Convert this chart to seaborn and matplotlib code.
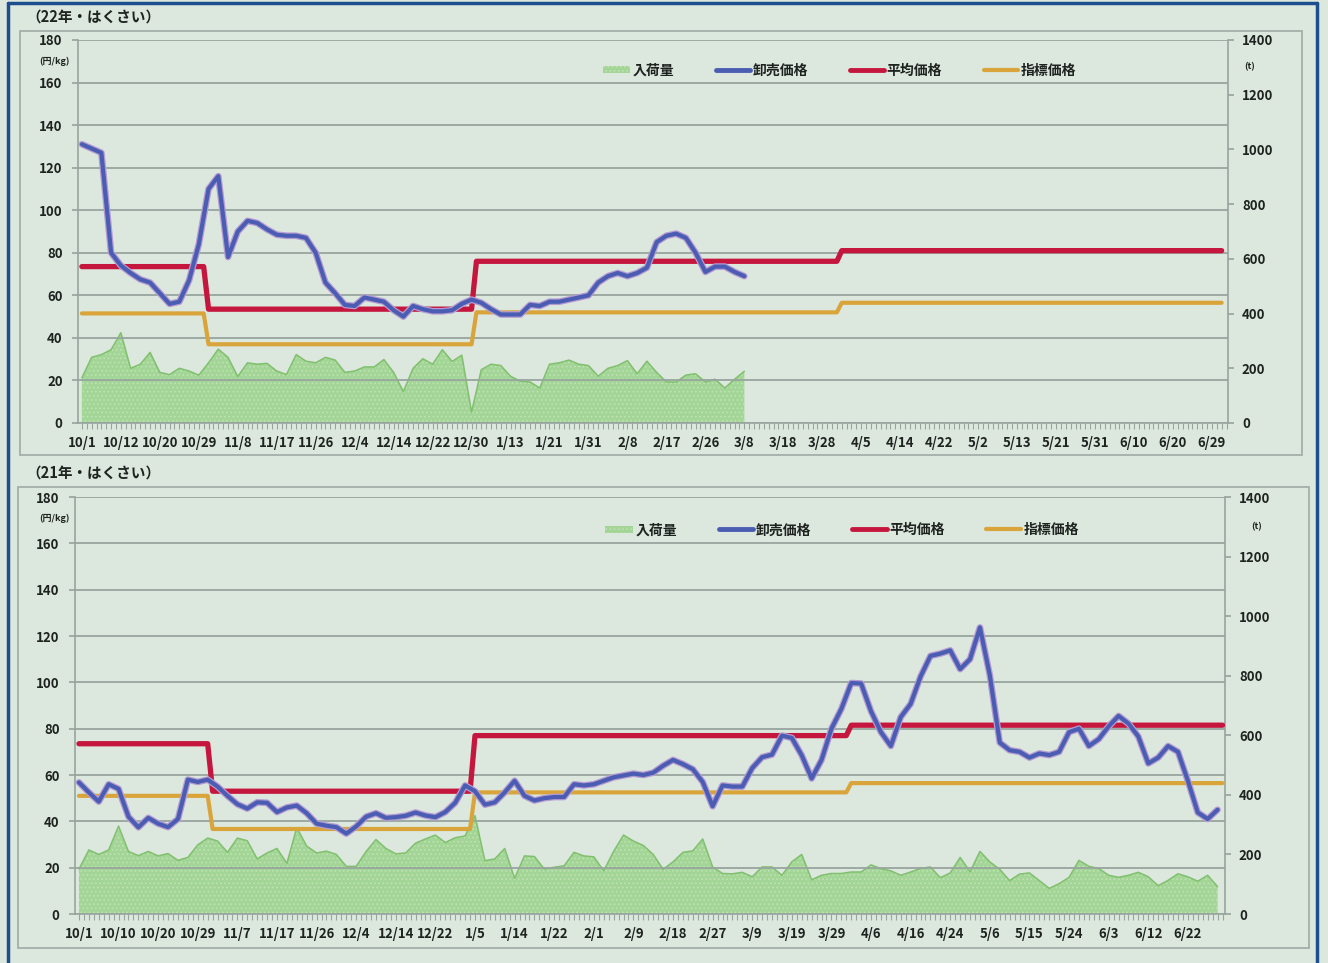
import numpy as np
import matplotlib
matplotlib.use('Agg')
import matplotlib.pyplot as plt
import seaborn as sns
from matplotlib.patches import Patch, Rectangle
from matplotlib.lines import Line2D
from matplotlib.legend_handler import HandlerPatch
from matplotlib.ticker import MultipleLocator

# 上段 22年・はくさい (値は2営業日ごと)
price22 = [131, 129, 127, 80, 74, 70.5, 67.5, 66, 61, 56, 57, 67, 84, 110, 116, 78, 90, 95, 94, 91,
           88.5, 88, 88, 87, 80, 66, 61, 55.5, 55, 59, 58, 57, 53, 50, 55, 53.5, 52.5, 52.5, 53, 56,
           58, 56.5, 53.5, 51, 51, 51, 55.5, 55, 57, 57, 58, 59, 60, 66, 69, 70.5, 69, 70.5, 73, 85,
           88, 89, 87, 80, 71, 73.5, 73.5, 71, 69]
volume22 = [165, 240, 250, 268, 330, 200, 215, 258, 185, 177, 200, 190, 175, 220, 270, 240, 170, 220, 215, 218,
            190, 177, 250, 226, 220, 240, 230, 185, 190, 205, 205, 232, 185, 115, 200, 235, 215, 268, 225, 248,
            40, 195, 215, 210, 171, 153, 150, 128, 215, 220, 230, 215, 210, 171, 200, 210, 228, 180, 226, 185,
            150, 150, 175, 180, 150, 160, 128, 160, 189]
avg22_levels = [73.5, 53.5, 76, 81]
idx22_levels = [51.5, 37, 52, 56.5]
days22 = [26, 55, 75, 79]
labels22 = ['10/1', '10/12', '10/20', '10/29', '11/8', '11/17', '11/26', '12/4', '12/14', '12/22',
            '12/30', '1/13', '1/21', '1/31', '2/8', '2/17', '2/26', '3/8', '3/18', '3/28',
            '4/5', '4/14', '4/22', '5/2', '5/13', '5/21', '5/31', '6/10', '6/20', '6/29']

# 下段 21年・はくさい
price21 = [56.8, 52.5, 48.5, 56, 54, 42, 37.4, 41.5, 39, 37.5, 41, 58, 57, 58, 55, 51, 47.4, 45.5, 48.2, 48,
           44, 46, 46.8, 43.5, 39, 38.1, 37.5, 34.7, 37.8, 42, 43.5, 41.5, 41.8, 42.4, 43.8, 42.5, 41.8, 44, 48, 55.5,
           53, 47.2, 48.2, 52.5, 57.5, 51, 49, 50, 50.5, 50.5, 56, 55.5, 56, 57.5, 59, 59.8, 60.6, 60, 61, 64,
           66.5, 64.7, 62.5, 57, 46.5, 55.5, 55, 55, 63, 67.7, 68.8, 77, 76, 68.5, 58.5, 66.5, 80, 88.5, 99.7, 99.5,
           87.5, 78.5, 72.5, 85, 90.7, 102.5, 111.4, 112.4, 113.8, 105.7, 110, 123.7, 103, 74, 70.7, 70, 67.5, 69.3, 68.6, 70,
           78.5, 80, 72.5, 75.5, 81, 85.5, 82.2, 76.6, 65, 67.5, 72.5, 70, 57.5, 43.8, 41, 45]
volume21 = [151, 215, 200, 215, 295, 210, 196, 210, 195, 203, 180, 190, 232, 255, 245, 207, 255, 246, 185, 205,
            220, 170, 290, 228, 205, 211, 200, 160, 160, 210, 250, 220, 202, 205, 238, 252, 265, 240, 256, 262,
            330, 179, 185, 220, 120, 195, 193, 151, 157, 162, 207, 195, 192, 145, 210, 265, 245, 230, 200, 150,
            175, 207, 212, 252, 158, 136, 135, 140, 125, 158, 158, 130, 175, 200, 115, 130, 136, 136, 141, 141,
            165, 152, 145, 130, 141, 153, 158, 122, 138, 190, 142, 210, 175, 150, 112, 134, 138, 112, 86, 102,
            123, 180, 160, 153, 130, 123, 130, 140, 125, 95, 113, 135, 125, 110, 130, 92]
avg21_levels = [73.5, 53, 77, 81.5]
idx21_levels = [51, 36.7, 52.5, 56.5]
days21 = [27, 53, 76, 76]
labels21 = ['10/1', '10/10', '10/20', '10/29', '11/7', '11/17', '11/26', '12/4', '12/14', '12/22',
            '1/5', '1/14', '1/22', '2/1', '2/9', '2/18', '2/27', '3/9', '3/19', '3/29',
            '4/6', '4/16', '4/24', '5/6', '5/15', '5/24', '6/3', '6/12', '6/22']

legend_names = ['入荷量', '卸売価格', '平均価格', '指標価格']

BG = '#dce7dd'
GRID = '#98a59f'
BLUE = '#4a5db3'
HALO = '#b49bd3'
RED = '#c5163e'
GOLD = '#d9a53a'
AREA = '#a2d596'
AREA_DOT = '#bfe3b3'
AREA_EDGE = '#80c06e'
TXT = '#1e2320'

sns.set_theme(style='white')
plt.rcParams['font.family'] = ['Noto Sans CJK JP', 'DejaVu Sans']
plt.rcParams['font.weight'] = 'bold'
plt.rcParams['hatch.linewidth'] = 0.7

W, H = 1328, 963
fig = plt.figure(figsize=(W / 100, H / 100), dpi=100, facecolor=BG)


def px_rect(x0, y0, x1, y1):
    return [x0 / W, 1 - y1 / H, (x1 - x0) / W, (y1 - y0) / H]


def small_box(legend, orig_handle, xdescent, ydescent, width, height, fontsize):
    # 入荷量の凡例は小さな四角
    w = width * 0.8
    return Rectangle((width - w - xdescent, -ydescent + height * 0.15), w, height * 0.7)


def draw_panel(rect, price, volume, avg_levels, idx_levels, days, labels, xlim, leg_x, step=2):
    ax = fig.add_axes(rect)
    axv = ax.twinx()
    ax.set_zorder(axv.get_zorder() + 1)
    ax.patch.set_visible(False)
    axv.set_facecolor('none')

    # 入荷量 (右軸)
    xv = np.arange(len(volume)) * step
    axv.fill_between(xv, volume, facecolor=AREA, edgecolor=AREA_DOT, hatch='....', linewidth=0)
    sns.lineplot(x=xv, y=volume, ax=axv, color=AREA_EDGE, linewidth=1.1, legend=False)

    # 指標価格・平均価格 (段階)
    xs = np.arange(sum(days))
    sns.lineplot(x=xs, y=np.repeat(idx_levels, days), ax=ax, color=GOLD, linewidth=3, legend=False)
    sns.lineplot(x=xs, y=np.repeat(avg_levels, days), ax=ax, color=RED, linewidth=3.8, legend=False)

    # 卸売価格
    xp = np.arange(len(price)) * step
    sns.lineplot(x=xp, y=price, ax=ax, color=HALO, linewidth=4.8, legend=False)
    sns.lineplot(x=xp, y=price, ax=ax, color=BLUE, linewidth=3.0, legend=False)

    ax.set_xlim(*xlim)
    ax.set_ylim(0, 180)
    ax.set_yticks(range(0, 181, 20))
    axv.set_ylim(0, 1400)
    axv.set_yticks(range(0, 1401, 200))
    ax.set_xticks(np.arange(len(labels)) * 8)
    ax.set_xticklabels(labels)
    ax.xaxis.set_minor_locator(MultipleLocator(1))
    ax.set_xlabel('')
    ax.set_ylabel('')
    axv.set_ylabel('')

    ax.grid(axis='y', color=GRID, linewidth=1.3)
    ax.grid(axis='x', visible=False)
    axv.grid(False)
    for s in ['top', 'right']:
        ax.spines[s].set_visible(False)
    for s in ['top', 'left', 'bottom']:
        axv.spines[s].set_visible(False)
    for s in ['left', 'bottom']:
        ax.spines[s].set_color(GRID)
        ax.spines[s].set_linewidth(1.2)
    axv.spines['right'].set_color(GRID)
    axv.spines['right'].set_linewidth(1.2)

    ax.tick_params(axis='x', which='both', direction='out', length=4, width=0.8, color=GRID,
                   pad=5, labelsize=9.5, labelcolor=TXT, bottom=True)
    ax.tick_params(axis='y', direction='out', length=4, color=GRID, pad=7, labelsize=9.5,
                   labelcolor=TXT, left=True)
    axv.tick_params(axis='y', direction='out', length=4, color=GRID, pad=6, labelsize=9.5,
                    labelcolor=TXT, right=True)

    box = Patch(facecolor=AREA, edgecolor=AREA_DOT, hatch='....', linewidth=0)
    handles = [box,
               Line2D([], [], color=BLUE, linewidth=3.5),
               Line2D([], [], color=RED, linewidth=3.5),
               Line2D([], [], color=GOLD, linewidth=3)]
    ax.legend(handles, legend_names, ncol=4, loc='center', bbox_to_anchor=(leg_x, 0.92),
              frameon=False, fontsize=10, handlelength=2.5, handletextpad=0.15,
              columnspacing=3.0, labelcolor=TXT,
              handler_map={box: HandlerPatch(patch_func=small_box)})
    return ax, axv


# 外枠
for x0, y0, x1, y1 in [(20, 31, 1302, 455), (18, 487, 1309, 948)]:
    fig.add_artist(Rectangle((x0 / W, 1 - y1 / H), (x1 - x0) / W, (y1 - y0) / H,
                             transform=fig.transFigure, fill=False, edgecolor='#a4afa9', linewidth=1.3))
for xs_, ys_ in [([8, 8], [3, 963]), ([1317, 1317], [3, 963]), ([8, 1317], [3, 3])]:
    fig.add_artist(Line2D([x / W for x in xs_], [1 - y / H for y in ys_], transform=fig.transFigure,
                          color='#1d4f8e', linewidth=2.5))

draw_panel(px_rect(78, 40, 1228, 423), price22, volume22, avg22_levels, idx22_levels, days22,
           labels22, (-0.8, 235.3), 0.659)
draw_panel(px_rect(75, 497, 1225, 914), price21, volume21, avg21_levels, idx21_levels, days21,
           labels21, (-0.8, 231.5), 0.664)

fig.text(26 / W, 1 - 17 / H, '（22年・はくさい）', fontsize=10.5, color=TXT, va='center', ha='left')
fig.text(26 / W, 1 - 473 / H, '（21年・はくさい）', fontsize=10.5, color=TXT, va='center', ha='left')
fig.text(54 / W, 1 - 61 / H, '(円/kg)', fontsize=6.5, color=TXT, va='center', ha='center')
fig.text(54 / W, 1 - 518 / H, '(円/kg)', fontsize=6.5, color=TXT, va='center', ha='center')
fig.text(1250 / W, 1 - 67 / H, '(t)', fontsize=6.5, color=TXT, va='center', ha='center')
fig.text(1257 / W, 1 - 527 / H, '(t)', fontsize=6.5, color=TXT, va='center', ha='center')

fig.savefig('out.png', dpi=100, facecolor=BG)
